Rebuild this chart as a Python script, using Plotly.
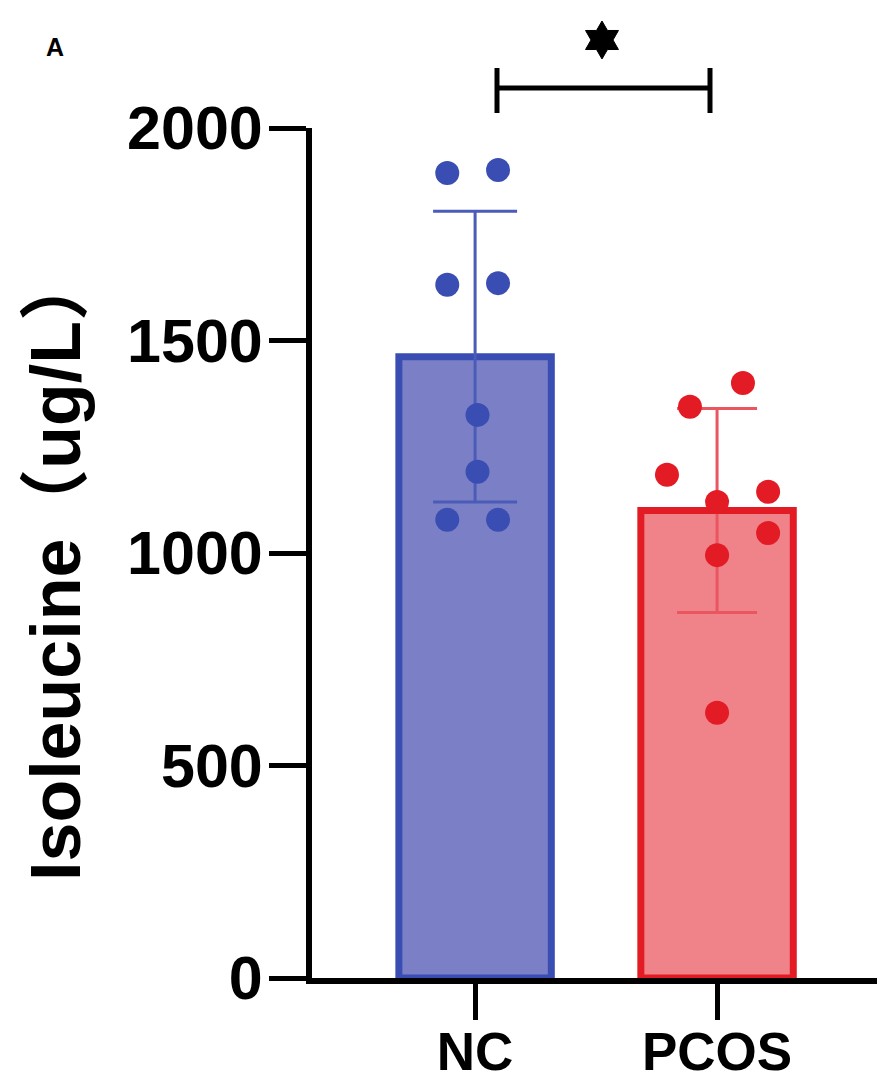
import math
import plotly.graph_objects as go

# ---- data ----
groups = ["NC", "PCOS"]
means = [1462, 1100]
sds = [342, 240]
nc_values = [1894, 1901, 1631, 1635, 1325, 1191, 1078, 1078]
pcos_values = [1400, 1344, 1184, 1144, 1120, 1047, 995, 624]
y_ticks = [0, 500, 1000, 1500, 2000]
y_title = "Isoleucine（ug/L）"

# ---- style / positions ----
nc_jitter = [-0.115, 0.095, -0.115, 0.095, 0.01, 0.01, -0.115, 0.095]
pcos_jitter = [0.107, -0.112, -0.207, 0.211, 0.0, 0.211, 0.0, 0.0]

NC_LINE = "#3a4db2"
NC_FILL = "#7b80c6"
PC_LINE = "#e31b25"
PC_FILL = "#f0838a"
FONT = "Liberation Sans, Arial, Noto Sans CJK SC, sans-serif"

L, R, T, B = 312, 9, 128, 109
W, H = 886, 1087
pw, ph = W - L - R, H - T - B
XR = [-0.674, 1.661]
YR = [0, 2000]

def px(x):
    return (x - L) / pw

def py(y):
    return (H - B - y) / ph

fig = go.Figure()

fig.add_trace(go.Bar(
    x=[0], y=[means[0]], width=0.63,
    marker=dict(color=NC_FILL, line=dict(color=NC_LINE, width=7)),
    error_y=dict(type="data", array=[sds[0]], color="#4a5bb8", thickness=3, width=42),
    showlegend=False,
))
fig.add_trace(go.Bar(
    x=[1], y=[means[1]], width=0.63,
    marker=dict(color=PC_FILL, line=dict(color=PC_LINE, width=7)),
    error_y=dict(type="data", array=[sds[1]], color="#ea5660", thickness=3, width=40),
    showlegend=False,
))
fig.add_trace(go.Scatter(
    x=[0 + j for j in nc_jitter], y=nc_values, mode="markers",
    marker=dict(color=NC_LINE, size=24, line=dict(width=0)),
    showlegend=False, cliponaxis=False,
))
fig.add_trace(go.Scatter(
    x=[1 + j for j in pcos_jitter], y=pcos_values, mode="markers",
    marker=dict(color=PC_LINE, size=24, line=dict(width=0)),
    showlegend=False, cliponaxis=False,
))

fig.update_layout(
    width=W, height=H,
    margin=dict(l=L, r=R, t=T, b=B, pad=0, autoexpand=False),
    paper_bgcolor="white", plot_bgcolor="white",
    barmode="overlay",
    font=dict(family=FONT, color="black"),
    xaxis=dict(
        range=XR, tickvals=[0, 1], ticktext=groups,
        showline=True, linewidth=6, linecolor="black",
        ticks="outside", ticklen=36, tickwidth=5, tickcolor="black",
        tickfont=dict(size=53, family=FONT, weight="bold"),
        ticklabelstandoff=-14,
        showgrid=False, zeroline=False, automargin=False,
    ),
    yaxis=dict(
        range=YR, tickvals=y_ticks,
        showline=True, linewidth=6, linecolor="black",
        ticks="outside", ticklen=37, tickwidth=5, tickcolor="black",
        tickfont=dict(size=61, family=FONT, weight="bold"),
        ticklabelstandoff=-6,
        showgrid=False, zeroline=False, automargin=False,
    ),
)

# y-axis title
fig.add_annotation(
    text=y_title, xref="paper", yref="paper", x=px(56), y=py(566),
    xanchor="center", yanchor="middle", textangle=-90, showarrow=False,
    font=dict(size=70, family=FONT, weight="bold", color="black"),
)

# panel label
fig.add_annotation(
    text="A", xref="paper", yref="paper", x=px(55), y=py(47),
    xanchor="center", yanchor="middle", showarrow=False,
    font=dict(size=25, family=FONT, weight="bold", color="black"),
)

# significance bracket
bx0, bx1, by, bt0, bt1 = 497, 710, 88, 68, 113
line = dict(color="black", width=5)
fig.add_shape(type="line", xref="paper", yref="paper", x0=px(bx0), x1=px(bx1), y0=py(by), y1=py(by), line=line)
fig.add_shape(type="line", xref="paper", yref="paper", x0=px(bx0), x1=px(bx0), y0=py(bt0), y1=py(bt1), line=line)
fig.add_shape(type="line", xref="paper", yref="paper", x0=px(bx1), x1=px(bx1), y0=py(bt0), y1=py(bt1), line=line)

# significance star (six-pointed, drawn as a path in paper coords)
scx, scy, r_out, r_in = 602, 40, 19, 11
pts = []
for k in range(12):
    ang = math.pi / 2 + k * math.pi / 6
    r = r_out if k % 2 == 0 else r_in
    pts.append((px(scx + r * math.cos(ang)), py(scy - r * math.sin(ang))))
path = "M " + " L ".join(f"{a:.5f},{b:.5f}" for a, b in pts) + " Z"
fig.add_shape(type="path", xref="paper", yref="paper", path=path,
              fillcolor="black", line=dict(color="black", width=1))

fig.write_html(
    "out.html",
    config={"displayModeBar": False},
    post_script="document.body.style.margin='0';document.body.style.overflow='hidden';",
)
